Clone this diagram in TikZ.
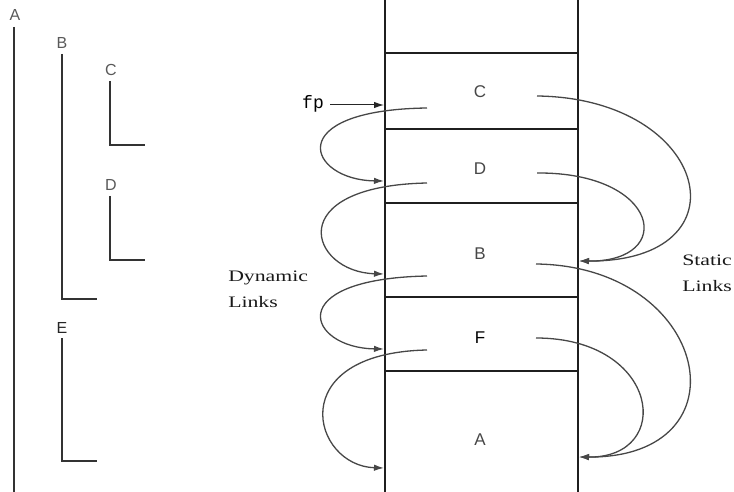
\documentclass[tikz,border=0pt]{standalone}
\usepackage{fontspec}
\setmainfont{Liberation Serif}
\setsansfont{Liberation Sans}
\setmonofont{Liberation Mono}
\usetikzlibrary{arrows.meta}
\begin{document}
\begin{tikzpicture}[x=1pt,y=-1pt,
  scopeline/.style={line width=2pt, draw=black!80},
  stackline/.style={line width=2pt, draw=black!88},
  link/.style={line width=1.3pt, draw=black!72, -{Latex[length=10pt,width=6.5pt]}},
  scopelbl/.style={font=\sffamily\fontsize{16}{16}\selectfont, text=black!65, inner sep=0pt},
  framelbl/.style={font=\sffamily\fontsize{17}{17}\selectfont, text=black!72, inner sep=0pt},
  note/.style={font=\fontsize{16}{26}\selectfont, align=left, inner sep=0pt, text=black!90, xscale=1.36}]
\useasboundingbox (0,0) rectangle (734,492);

% ---- scope brackets (left) ----
\node[scopelbl] (lA) at (15,15) {A};
\draw[scopeline] (14,27) -- (14,492);
\node[scopelbl] (lB) at (62,43) {B};
\draw[scopeline] (62,54) -- (62,299) -- (97,299);
\node[scopelbl] (lC) at (111,70) {C};
\draw[scopeline] (110,81) -- (110,145) -- (145,145);
\node[scopelbl] (lD) at (111,185) {D};
\draw[scopeline] (110,196) -- (110,260) -- (145,260);
\node[scopelbl,text=black!85] (lE) at (62,328) {E};
\draw[scopeline] (62,338) -- (62,461) -- (97,461);

% ---- stack ----
\draw[stackline] (385,0) -- (385,492);
\draw[stackline] (578,0) -- (578,492);
\draw[stackline] (385,53) -- (579,53);
\draw[stackline] (385,129) -- (578,129);
\draw[stackline] (385,203) -- (578,203);
\draw[stackline] (385,297) -- (578,297);
\draw[stackline] (385,371) -- (578,371);

\node[framelbl] (fC) at (480,92) {C};
\node[framelbl] (fD) at (480,169) {D};
\node[framelbl] (fB) at (480,254) {B};
\node[framelbl,text=black] (fF) at (480,338) {F};
\node[framelbl] (fA) at (480,440) {A};

% ---- link end points ----
\coordinate (dC) at (427,108);
\coordinate (dD) at (427,183);
\coordinate (dB) at (427,276);
\coordinate (dF) at (427,350);
\coordinate (aD) at (384,181);
\coordinate (aB) at (384,274);
\coordinate (aF) at (384,349);
\coordinate (aA) at (384,468);
\coordinate (sC) at (537,96);
\coordinate (sD) at (537,173);
\coordinate (sB) at (536,264);
\coordinate (sF) at (536,338);
\coordinate (tB) at (579,261);
\coordinate (tA) at (579,457);

% ---- fp ----
\node[font=\ttfamily\fontsize{18}{18}\selectfont, inner sep=0pt, anchor=base] (fp) at (313,109) {fp};
\coordinate (fptip) at (384,105);
\draw[link, line width=1pt, draw=black!85] (fp.east |- fptip) ++(6,0) -- (fptip);

% ---- dynamic links ----
\draw[link] (dC) .. controls (280,110) and (308,180) .. (aD);
\draw[link] (dD) .. controls (280,186) and (310,272) .. (aB);
\draw[link] (dB) .. controls (280,279) and (308,348) .. (aF);
\draw[link] (dF) .. controls (282,353) and (312,466) .. (aA);

% ---- static links ----
\draw[link] (sC) .. controls (710,98) and (750,262) .. (tB);
\draw[link] (sD) .. controls (660,172) and (677,262) .. (tB);
\draw[link] (sB) .. controls (710,266) and (750,458) .. (tA);
\draw[link] (sF) .. controls (660,338) and (675,458) .. (tA);

% ---- notes ----
\node[note, anchor=north west] (dyn) at (228,271) {Dynamic\\Links};
\node[note, anchor=north west] (sta) at (682,255) {Static\\Links};
\end{tikzpicture}
\end{document}
